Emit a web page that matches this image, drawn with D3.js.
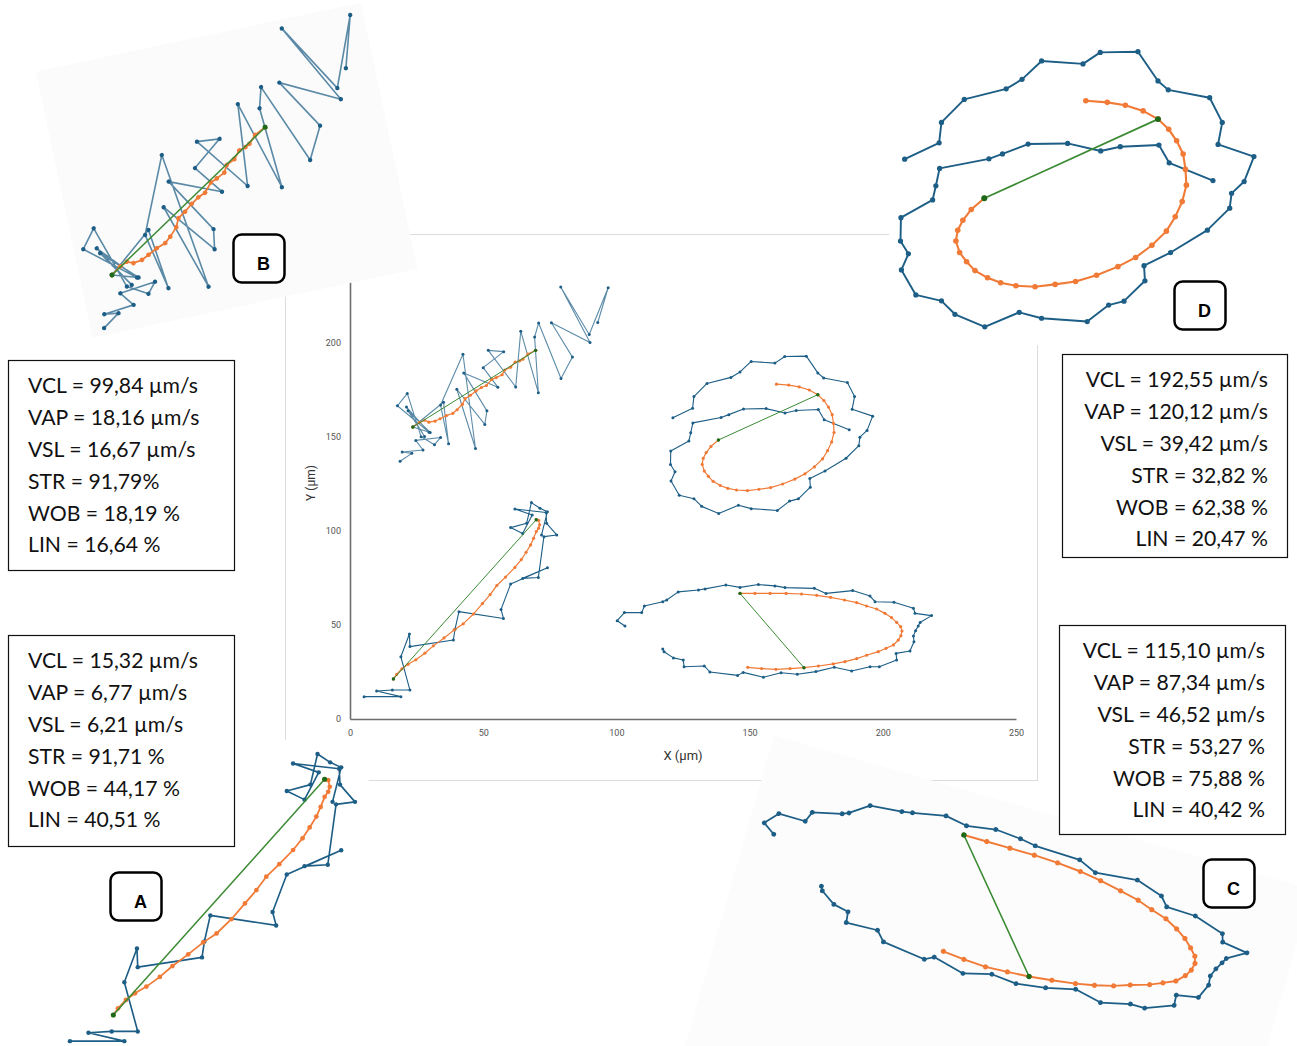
<!DOCTYPE html>
<html>
<head>
<meta charset="utf-8">
<script src="https://cdn.jsdelivr.net/npm/d3@7"></script>
<style>
  body { margin: 0; background: #fff; }
  svg { display: block; }
</style>
</head>
<body>
<svg id="fig" width="1297" height="1046"></svg>
<script>
// ---- Trajectories, [x, y] in µm ----
// VCL: curvilinear track, VAP: average path, VSL: straight line start -> end
const trackA_vcl = [[5.3,11.9],[19.1,11.9],[10.0,14.9],[15.9,15.4],[22.5,15.4],[19.1,33.1],[22.3,45.2],[22.5,38.5],[38.8,42.0],[39.4,47.7],[40.9,57.1],[57.6,53.5],[56.7,58.3],[60.3,71.8],[74.1,80.5],[64.8,74.8],[70.7,75.3],[72.8,97.0],[77.6,97.9],[73.8,104.1],[73.6,109.8],[61.9,111.7],[68.4,108.5],[64.8,98.7],[60.3,101.8],[66.3,104.1],[68.1,115.1],[71.3,112.1],[74.1,110.3],[71.9,97.9]];
const trackA_vap = [[16.3,21.3],[17.5,23.7],[19.5,26.7],[21.8,29.1],[24.7,31.5],[28.1,35.0],[31.3,38.9],[35.3,43.1],[39.1,47.4],[42.5,50.6],[46.3,55.8],[49.7,61.4],[52.6,66.2],[55.1,71.0],[58.4,75.5],[61.9,80.6],[64.3,84.8],[66.1,88.7],[67.8,92.6],[68.9,96.1],[69.9,99.7],[70.8,101.5],[71.2,103.3],[70.8,105.7],[69.9,106.0]];
const trackA_vsl = [[16.3,21.3],[69.9,106.0]];

const trackB_vcl = [[18.8,137.1],[23.2,141.3],[19.6,142.0],[27.4,143.1],[24.7,148.2],[34.0,149.7],[31.7,145.9],[26.7,150.1],[21.5,173.2],[17.8,166.6],[29.7,152.5],[21.2,165.9],[28.0,150.3],[21.8,163.9],[30.1,152.4],[23.6,155.3],[35.1,168.5],[37.0,146.4],[34.0,167.0],[42.4,194.0],[47.1,143.9],[40.1,175.4],[50.6,156.7],[51.4,163.9],[42.7,184.1],[55.5,176.5],[50.0,186.9],[57.7,195.4],[51.9,196.1],[62.2,176.6],[64.1,206.3],[70.7,173.6],[69.3,203.2],[70.8,210.6],[79.2,181.1],[83.5,192.5],[75.6,210.8],[90.1,200.3],[79.1,229.8],[89.8,204.5],[96.9,229.4],[93.0,210.9]];
const trackB_vap = [[23.6,155.3],[26.1,157.7],[28.0,158.9],[29.6,157.9],[31.9,158.4],[33.8,159.7],[36.2,161.4],[38.6,162.6],[40.2,164.5],[42.2,167.4],[43.2,170.4],[45.2,172.2],[47.3,174.5],[49.3,176.3],[51.2,177.4],[53.2,180.6],[54.9,181.6],[57.1,183.1],[58.1,185.6],[60.3,187.1],[62.0,189.8],[63.7,190.5],[64.9,191.4],[66.8,194.1],[69.7,196.1]];
const trackB_vsl = [[23.6,155.3],[69.7,196.1]];

const trackC_vcl = [[103.2,49.5],[100.3,52.3],[103.0,56.6],[109.5,56.6],[110.5,60.1],[117.4,62.4],[118.9,63.3],[123.2,67.6],[130.8,68.6],[133.3,69.2],[141.1,71.3],[146.4,70.0],[153.3,71.5],[159.5,70.8],[163.3,69.9],[174.3,69.5],[178.7,66.8],[188.7,68.3],[195.2,65.4],[197.1,62.4],[204.2,62.1],[211.5,58.9],[212.1,56.2],[218.3,55.0],[214.0,51.3],[213.3,49.5],[212.3,47.0],[211.5,44.2],[211.7,41.1],[210.2,36.2],[205.0,34.9],[205.2,31.4],[198.7,27.8],[195.2,27.8],[188.3,25.5],[181.8,27.5],[174.9,25.2],[167.9,23.8],[161.8,24.6],[155.2,22.2],[147.6,24.8],[145.5,23.2],[135.1,25.0],[133.0,28.2],[125.4,27.8],[125.1,31.4],[121.4,32.5],[117.9,35.8],[117.4,37.2]];
const trackC_vap = [[146.4,66.8],[152.0,66.8],[157.7,66.8],[163.7,66.8],[169.5,66.5],[175.2,65.8],[180.4,64.7],[185.6,63.3],[190.2,61.9],[193.9,60.1],[197.7,58.5],[200.8,56.2],[203.3,53.9],[205.2,51.4],[206.7,49.1],[207.2,46.8],[206.8,44.3],[205.8,42.0],[204.0,39.4],[201.2,37.6],[198.3,35.8],[193.9,33.9],[190.2,32.1],[185.8,30.5],[181.4,29.3],[175.8,28.2],[170.4,27.3],[165.2,26.8],[159.9,26.4],[154.5,26.8],[149.3,27.5]];
const trackC_vsl = [[146.4,66.8],[170.4,27.3]];

const trackD_vcl = [[121.2,160.3],[128.6,165.3],[129.1,171.5],[134.0,178.5],[143.0,181.7],[146.4,184.6],[150.6,190.2],[159.5,189.3],[163.2,192.8],[171.3,193.0],[175.6,184.1],[177.8,181.4],[186.7,179.0],[189.4,171.5],[188.5,164.8],[196.2,161.1],[194.1,153.5],[191.4,149.9],[191.0,145.4],[186.2,138.7],[178.3,131.9],[172.6,127.9],[172.8,123.3],[168.3,117.1],[165.0,115.9],[160.4,110.9],[150.6,111.9],[145.8,113.7],[138.4,109.3],[132.0,113.1],[129.1,117.2],[123.6,119.0],[120.5,126.6],[122.0,131.5],[120.3,135.4],[120.4,142.5],[127.2,147.9],[127.9,152.2],[128.7,157.5],[139.3,160.4],[142.2,161.9],[147.7,164.9],[156.2,165.1],[163.3,162.8],[167.5,164.1],[175.8,164.6],[178.0,159.2],[187.4,153.8]];
const trackD_vap = [[160.1,178.1],[164.7,177.6],[168.6,176.7],[172.4,175.0],[175.6,172.5],[177.9,169.4],[179.6,165.9],[181.0,161.9],[181.5,157.2],[181.7,152.4],[180.8,147.4],[179.3,142.8],[177.4,138.4],[174.3,134.1],[170.8,130.4],[167.0,127.6],[162.4,125.0],[157.9,123.1],[153.5,122.2],[149.2,121.5],[145.1,121.8],[141.8,122.7],[139.0,124.2],[136.3,126.4],[134.5,129.1],[133.0,131.9],[132.2,135.4],[132.6,138.7],[133.7,141.7],[135.5,145.0],[138.3,148.4]];
const trackD_vsl = [[138.3,148.4],[175.6,172.5]];

// ---- Axis ticks ----
const xTicks = [0, 50, 100, 150, 200, 250];
const yTicks = [0, 50, 100, 150, 200, 250];

// ---- Motility parameters per cell ----
const statsA = ["VCL = 15,32 µm/s", "VAP = 6,77 µm/s", "VSL = 6,21 µm/s", "STR = 91,71 %", "WOB = 44,17 %", "LIN = 40,51 %"];
const statsB = ["VCL = 99,84 µm/s", "VAP = 18,16 µm/s", "VSL = 16,67 µm/s", "STR = 91,79%", "WOB = 18,19 %", "LIN = 16,64 %"];
const statsC = ["VCL = 115,10 µm/s", "VAP = 87,34 µm/s", "VSL = 46,52 µm/s", "STR = 53,27 %", "WOB = 75,88 %", "LIN = 40,42 %"];
const statsD = ["VCL = 192,55 µm/s", "VAP = 120,12 µm/s", "VSL = 39,42 µm/s", "STR = 32,82 %", "WOB = 62,38 %", "LIN = 20,47 %"];

const BLUE = "#1d5e86", ORANGE = "#f07a36", GREEN = "#3b8a33", GREEN_DOT = "#1d6a1a";

const svg = d3.select("#fig");
const x = d3.scaleLinear().domain([0, 250]).range([350, 1016]);
const y = d3.scaleLinear().domain([0, 250]).range([719, 249]);
const line = d3.line().x(d => x(d[0])).y(d => y(d[1]));

// light frame around the plot panel
svg.append("rect").attr("x", 285.5).attr("y", 234.5).attr("width", 752).attr("height", 546)
  .attr("fill", "none").attr("stroke", "#dcdcdc").attr("stroke-width", 1);

// ---- Main axes ----
const gx = svg.append("g").attr("transform", `translate(0,${y(0)})`)
  .call(d3.axisBottom(x).tickValues(xTicks).tickSize(0).tickPadding(11));
const gy = svg.append("g").attr("transform", `translate(${x(0)},0)`)
  .call(d3.axisLeft(y).tickValues(yTicks).tickSize(0).tickPadding(9));
[gx, gy].forEach(g => {
  g.select(".domain").attr("stroke", "#6e6e6e").attr("stroke-width", 1.6);
  g.selectAll("text").attr("fill", "#555").attr("font-family", "Roboto, sans-serif").attr("font-size", 9);
});
svg.append("text").attr("x", 683).attr("y", 760).attr("text-anchor", "middle")
  .attr("font-family", "Roboto, sans-serif").attr("font-size", 13).attr("fill", "#333").text("X (µm)");
svg.append("text").attr("transform", "translate(315,483) rotate(-90)").attr("text-anchor", "middle")
  .attr("font-family", "Roboto, sans-serif").attr("font-size", 12).attr("fill", "#333").text("Y (µm)");

const tracks = {
  A: { vcl: trackA_vcl, vap: trackA_vap, vsl: trackA_vsl, op: 1 },
  B: { vcl: trackB_vcl, vap: trackB_vap, vsl: trackB_vsl, op: 0.72 },
  C: { vcl: trackC_vcl, vap: trackC_vap, vsl: trackC_vsl, op: 1 },
  D: { vcl: trackD_vcl, vap: trackD_vap, vsl: trackD_vsl, op: 1 }
};

function drawTrack(g, t) {
  g.append("path").attr("d", line(t.vcl)).attr("fill", "none")
    .attr("stroke", BLUE).attr("stroke-width", 1.1).attr("stroke-opacity", t.op).attr("stroke-linejoin", "round");
  g.append("g").selectAll("circle").data(t.vcl).join("circle")
    .attr("cx", d => x(d[0])).attr("cy", d => y(d[1])).attr("r", 1.5).attr("fill", BLUE);
  g.append("path").attr("d", line(t.vap)).attr("fill", "none")
    .attr("stroke", ORANGE).attr("stroke-width", 1.2);
  g.append("g").selectAll("circle").data(t.vap).join("circle")
    .attr("cx", d => x(d[0])).attr("cy", d => y(d[1])).attr("r", 1.6).attr("fill", ORANGE);
  g.append("path").attr("d", line(t.vsl)).attr("fill", "none")
    .attr("stroke", GREEN).attr("stroke-width", 1);
  g.append("g").selectAll("circle").data(t.vsl).join("circle")
    .attr("cx", d => x(d[0])).attr("cy", d => y(d[1])).attr("r", 1.7).attr("fill", GREEN_DOT);
}

const main = svg.append("g");
Object.values(tracks).forEach(t => drawTrack(main.append("g"), t));

// ---- Enlarged views: anchored on the VSL start, scaled and turned ----
const insets = [
  { key: "A", at: [113.3, 1015], k: 1.48, rot: 0,   bg: [357, 493, 209, 207], fill: "#ffffff" },
  { key: "B", at: [112, 275],    k: 1.47, rot: -12, bg: [391, 281, 226, 185], fill: "#fbfbfb" },
  { key: "C", at: [963.9, 835],  k: 1.59, rot: 16,  bg: [608, 566, 352, 207], fill: "#fcfcfc" },
  { key: "D", at: [984.3, 198.3], k: 1.748, rot: 0, bg: [664, 327, 233, 197], fill: "#ffffff" }
];
insets.forEach(s => {
  const t = tracks[s.key];
  const a = t.vsl[0];
  const g = svg.append("g").attr("transform",
    `translate(${s.at[0]},${s.at[1]}) scale(${s.k}) rotate(${s.rot}) translate(${-x(a[0])},${-y(a[1])})`);
  g.append("rect").attr("x", s.bg[0]).attr("y", s.bg[1]).attr("width", s.bg[2]).attr("height", s.bg[3])
    .attr("fill", s.fill);
  drawTrack(g, t);
});

// ---- Parameter boxes ----
const boxes = [
  { lines: statsB, rect: [8.5, 360.5, 226, 210], tx: 28, ty: 386, anchor: "start" },
  { lines: statsA, rect: [8.5, 635.5, 226, 211], tx: 28, ty: 661, anchor: "start" },
  { lines: statsD, rect: [1062.5, 354.5, 225, 203], tx: 1268, ty: 380, anchor: "end" },
  { lines: statsC, rect: [1059.5, 625.5, 226, 209], tx: 1265, ty: 651, anchor: "end" }
];
boxes.forEach(b => {
  const g = svg.append("g");
  g.append("rect").attr("x", b.rect[0]).attr("y", b.rect[1]).attr("width", b.rect[2]).attr("height", b.rect[3])
    .attr("fill", "#fff").attr("stroke", "#111").attr("stroke-width", 1.2);
  g.selectAll("text").data(b.lines).join("text")
    .attr("x", b.tx).attr("y", (d, i) => b.ty + i * 31.8)
    .attr("dy", "0.35em").attr("text-anchor", b.anchor)
    .attr("font-family", "Lato, 'Open Sans', sans-serif").attr("font-size", 21.2).attr("fill", "#111")
    .text(d => d);
});

// ---- Letter tags ----
const tags = [
  { label: "A", x: 110.5, y: 872.5 },
  { label: "B", x: 233.5, y: 234.5 },
  { label: "C", x: 1203.5, y: 859.5 },
  { label: "D", x: 1174.5, y: 281.5 }
];
tags.forEach(tg => {
  svg.append("rect").attr("x", tg.x).attr("y", tg.y).attr("width", 51).attr("height", 48).attr("rx", 8)
    .attr("fill", "#fff").attr("stroke", "#000").attr("stroke-width", 2.5);
  svg.append("text").attr("x", tg.x + 30).attr("y", tg.y + 29).attr("dy", "0.35em").attr("text-anchor", "middle")
    .attr("font-family", "'Liberation Sans', Arial, sans-serif").attr("font-weight", "bold").attr("font-size", 18)
    .attr("fill", "#000").text(tg.label);
});
</script>
</body>
</html>
